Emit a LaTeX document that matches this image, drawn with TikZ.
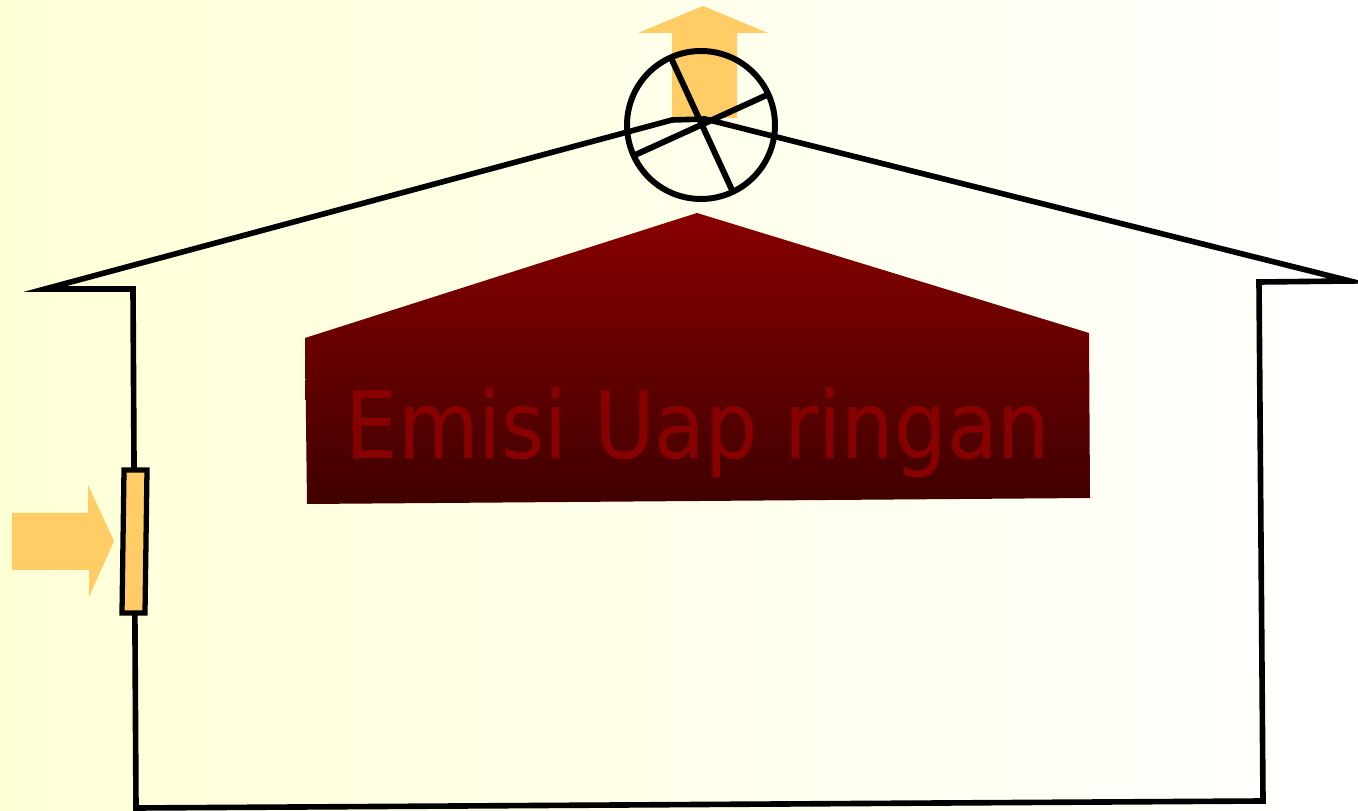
\documentclass[tikz,border=0pt]{standalone}
\usepackage{fontspec}
\setmainfont{DejaVu Sans}
\definecolor{bgyellow}{HTML}{FFFFD6}
\definecolor{airorange}{HTML}{FFCC66}
\definecolor{emisired}{HTML}{880000}
\definecolor{emisidark}{HTML}{400000}

\begin{document}
\begin{tikzpicture}[
  x=0.1mm, y=-0.1mm,
  wall/.style={line width=1.6pt, black, line join=miter},
  flow/.style={fill=airorange, draw=none},
  fanline/.style={line width=1.7pt, black},
  vent/.style={line width=1.5pt, black, fill=airorange},
  lbl/.style={text=emisired, font=\fontsize{26.5}{30}\selectfont,
    xscale=0.89, inner sep=0pt, anchor=base},
]

% Background
\shade[left color=bgyellow, right color=white] (0,0) rectangle (1358,811);
\useasboundingbox (0,0) rectangle (1358,811);

% Exhaust air (up)
\fill[flow] (672,118) -- (672,33) -- (638,33) -- (703,6) -- (768,33)
  -- (737,33) -- (737,118) -- cycle;

% Emission zone
\shade[top color=emisired, bottom color=emisidark]
  (697,213) -- (1089,333) -- (1090,498) -- (307,504) -- (305,338) -- cycle;
\node[lbl] (emisi) at (698,459) {Emisi Uap ringan};

% House outline
\coordinate (bl) at (136,808);
\coordinate (lw) at (133,289);
\coordinate (le) at (45,289);
\coordinate (rl) at (672,120);
\coordinate (rr) at (705,119);
\coordinate (re) at (1350,281);
\coordinate (rw) at (1259,282);
\coordinate (br) at (1263,801);
\draw[wall] (bl) -- (lw) -- (le) -- (rl) -- (rr) -- (re) -- (rw) -- (br) -- cycle;

% Fan
\node[circle, draw, line width=1.7pt, minimum size=14.8mm, inner sep=0pt] (fan) at (701,125) {};
\draw[fanline] (672,60) -- (732,190);
\draw[fanline] (635,155) -- (767,95);

% Inlet vent
\draw[vent] (124,470) -- (147,470) -- (145,613) -- (122,613) -- cycle;

% Fresh air (in)
\fill[flow] (12,513) -- (88,513) -- (88,485) -- (114,541) -- (89,597)
  -- (89,570) -- (12,570) -- cycle;

\end{tikzpicture}
\end{document}
